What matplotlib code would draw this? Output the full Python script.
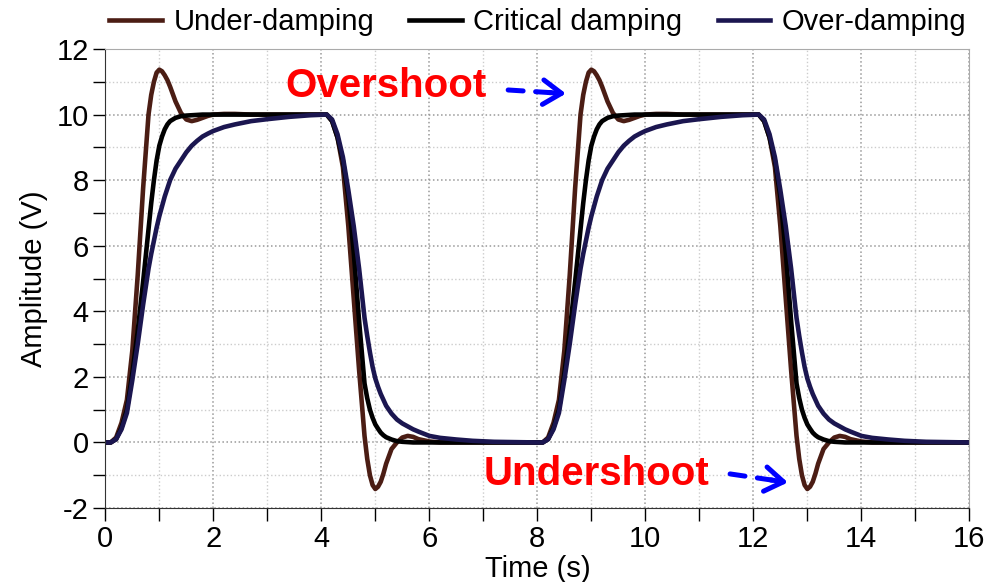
import matplotlib
matplotlib.use("Agg")
import matplotlib.pyplot as plt
from matplotlib.ticker import MultipleLocator

plt.rcParams['font.family'] = ['Liberation Sans', 'DejaVu Sans']
plt.rcParams['axes.unicode_minus'] = False

# time samples (s) for both periods
time = [0.0, 0.1, 0.2, 0.3, 0.4, 0.5, 0.6, 0.7, 0.8,
        0.85, 0.9, 0.95, 1.0, 1.05, 1.1, 1.15, 1.2,
        1.3, 1.4, 1.5, 1.6, 1.7, 1.8, 1.9, 2.0,
        2.2, 2.4, 2.7, 3.0, 3.4, 3.8,
        4.1, 4.2, 4.3, 4.4, 4.5, 4.6, 4.7, 4.8,
        4.85, 4.9, 4.95, 5.0, 5.05, 5.1, 5.15, 5.2,
        5.3, 5.4, 5.5, 5.6, 5.7, 5.8,
        6.0, 6.2, 6.5, 6.8, 7.2, 7.6,
        8.0, 8.1, 8.2, 8.3, 8.4, 8.5, 8.6, 8.7, 8.8,
        8.85, 8.9, 8.95, 9.0, 9.05, 9.1, 9.15, 9.2,
        9.3, 9.4, 9.5, 9.6, 9.7, 9.8, 9.9, 10.0,
        10.2, 10.4, 10.7, 11.0, 11.4, 11.8,
        12.1, 12.2, 12.3, 12.4, 12.5, 12.6, 12.7, 12.8,
        12.85, 12.9, 12.95, 13.0, 13.05, 13.1, 13.15, 13.2,
        13.3, 13.4, 13.5, 13.6, 13.7, 13.8,
        14.0, 14.2, 14.5, 14.8, 15.2, 15.6,
        16.0]

under = [0, 0, 0.15, 0.6, 1.3, 2.8, 5.1, 7.75, 10.0,
         10.6, 11.0, 11.28, 11.37, 11.32, 11.2, 11.05, 10.85,
         10.4, 10.05, 9.85, 9.8, 9.84, 9.9, 9.96, 10.0,
         10.02, 10.02, 10.0, 10.0, 10.0, 10.0,
         10.0, 9.8, 9.3, 8.4, 6.6, 4.4, 2.2, 0.2,
         -0.5, -1.0, -1.3, -1.42, -1.35, -1.2, -0.95, -0.65,
         -0.2, 0.0, 0.15, 0.2, 0.17, 0.1,
         0.03, 0.0, 0.0, 0.0, 0.0, 0.0,
         0, 0, 0.15, 0.6, 1.3, 2.8, 5.1, 7.75, 10.0,
         10.6, 11.0, 11.28, 11.37, 11.32, 11.2, 11.05, 10.85,
         10.4, 10.05, 9.85, 9.8, 9.84, 9.9, 9.96, 10.0,
         10.02, 10.02, 10.0, 10.0, 10.0, 10.0,
         10.0, 9.8, 9.3, 8.4, 6.6, 4.4, 2.2, 0.2,
         -0.5, -1.0, -1.3, -1.42, -1.35, -1.2, -0.95, -0.65,
         -0.2, 0.0, 0.15, 0.2, 0.17, 0.1,
         0.03, 0.0, 0.0, 0.0, 0.0, 0.0,
         0.0]

critical = [0, 0, 0.1, 0.45, 1.0, 2.1, 3.4, 4.9, 6.5,
            7.3, 8.0, 8.6, 9.05, 9.33, 9.55, 9.7, 9.8,
            9.9, 9.95, 9.97, 9.98, 9.99, 10.0, 10.0, 10.0,
            10.0, 10.0, 10.0, 10.0, 10.0, 10.0,
            10.0, 9.8, 9.3, 8.6, 7.5, 5.8, 3.7, 1.8,
            1.35, 1.0, 0.75, 0.55, 0.42, 0.3, 0.22, 0.16,
            0.09, 0.04, 0.02, 0.01, 0.0, 0.0,
            0.0, 0.0, 0.0, 0.0, 0.0, 0.0,
            0, 0, 0.1, 0.45, 1.0, 2.1, 3.4, 4.9, 6.5,
            7.3, 8.0, 8.6, 9.05, 9.33, 9.55, 9.7, 9.8,
            9.9, 9.95, 9.97, 9.98, 9.99, 10.0, 10.0, 10.0,
            10.0, 10.0, 10.0, 10.0, 10.0, 10.0,
            10.0, 9.8, 9.3, 8.6, 7.5, 5.8, 3.7, 1.8,
            1.35, 1.0, 0.75, 0.55, 0.42, 0.3, 0.22, 0.16,
            0.09, 0.04, 0.02, 0.01, 0.0, 0.0,
            0.0, 0.0, 0.0, 0.0, 0.0, 0.0,
            0.0]

over = [0, 0, 0.1, 0.4, 0.9, 1.9, 3.0, 4.2, 5.3,
        5.75, 6.15, 6.55, 6.9, 7.2, 7.5, 7.75, 8.0,
        8.35, 8.6, 8.85, 9.05, 9.2, 9.33, 9.42, 9.5,
        9.62, 9.7, 9.8, 9.86, 9.93, 9.98,
        10.0, 9.85, 9.4, 8.7, 7.7, 6.6, 5.3, 3.8,
        3.25, 2.75, 2.3, 1.95, 1.7, 1.48, 1.3, 1.12,
        0.88, 0.7, 0.58, 0.49, 0.4, 0.33,
        0.2, 0.14, 0.09, 0.05, 0.02, 0.01,
        0, 0, 0.1, 0.4, 0.9, 1.9, 3.0, 4.2, 5.3,
        5.75, 6.15, 6.55, 6.9, 7.2, 7.5, 7.75, 8.0,
        8.35, 8.6, 8.85, 9.05, 9.2, 9.33, 9.42, 9.5,
        9.62, 9.7, 9.8, 9.86, 9.93, 9.98,
        10.0, 9.85, 9.4, 8.7, 7.7, 6.6, 5.3, 3.8,
        3.25, 2.75, 2.3, 1.95, 1.7, 1.48, 1.3, 1.12,
        0.88, 0.7, 0.58, 0.49, 0.4, 0.33,
        0.2, 0.14, 0.09, 0.05, 0.02, 0.01,
        0.0]

labels = ["Under-damping", "Critical damping", "Over-damping"]
colors = ["#4b1d14", "#000000", "#1b1650"]

fig = plt.figure(figsize=(9.87, 5.82), dpi=100)
ax = fig.add_axes([0.1067, 0.1271, 0.8754, 0.7887])

for y, lab, c in zip([under, critical, over], labels, colors):
    ax.plot(time, y, color=c, lw=3.3, label=lab, solid_joinstyle='round')

ax.set_xlim(0, 16)
ax.set_ylim(-2, 12)
ax.xaxis.set_major_locator(MultipleLocator(2))
ax.xaxis.set_minor_locator(MultipleLocator(1))
ax.yaxis.set_major_locator(MultipleLocator(2))
ax.yaxis.set_minor_locator(MultipleLocator(1))

ax.grid(which='major', ls=':', color='#999999', lw=1.1)
ax.grid(which='minor', ls=':', color='#cccccc', lw=1.0)
ax.set_axisbelow(True)

ax.tick_params(which='both', direction='out', length=9, width=1, labelsize=21, pad=3)
for s in ['top', 'right']:
    ax.spines[s].set_color('#aaaaaa')
ax.spines['left'].set_color('#333333')
ax.spines['bottom'].set_color('#333333')

ax.set_xlabel("Time (s)", fontsize=21, labelpad=2)
ax.set_ylabel("Amplitude (V)", fontsize=21, labelpad=6)

fig.legend(loc='center', bbox_to_anchor=(0.545, 0.962), ncol=3, frameon=False,
           fontsize=21, handlelength=1.8, handletextpad=0.4, columnspacing=1.2)

# annotations
ax.text(5.2, 10.87, "Overshoot", color='#ff0000', fontsize=29, fontweight='bold',
        ha='center', va='center')
ax.text(9.1, -0.95, "Undershoot", color='#ff0000', fontsize=29, fontweight='bold',
        ha='center', va='center')

arrows = [((7.46, 10.75), (8.53, 10.64)), ((11.57, -0.96), (12.64, -1.22))]
for start, tip in arrows:
    # dashed shaft
    ax.annotate('', xy=tip, xytext=start,
                arrowprops=dict(arrowstyle='-', color='#0000ff', lw=3.6,
                                linestyle=(0, (3, 2.5)), shrinkA=0, shrinkB=4))
    # solid head on a short last piece
    head_from = (tip[0] - 0.3 * (tip[0] - start[0]), tip[1] - 0.3 * (tip[1] - start[1]))
    ax.annotate('', xy=tip, xytext=head_from,
                arrowprops=dict(arrowstyle='->, head_length=0.6, head_width=0.4',
                                color='#0000ff', lw=3.6, shrinkA=0, shrinkB=0,
                                mutation_scale=22))

fig.savefig("out.png", dpi=100)
